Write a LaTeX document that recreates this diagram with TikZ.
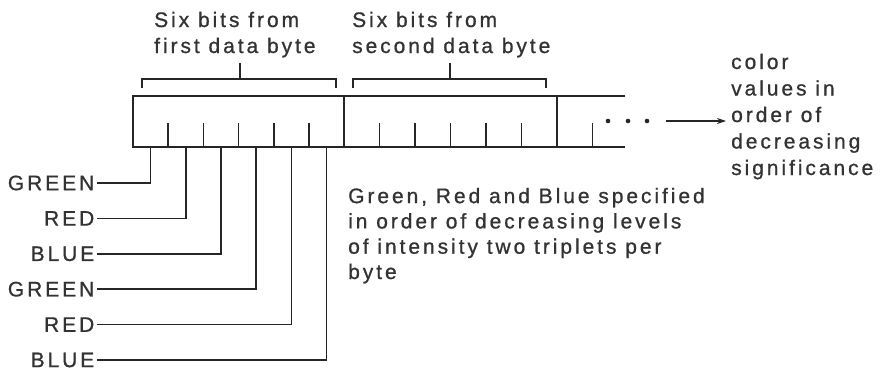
\documentclass[tikz,border=0pt]{standalone}
\usepackage{fontspec}
\setmainfont[LetterSpace=14,FakeBold=0.8]{Liberation Sans}
\usetikzlibrary{arrows.meta}
\definecolor{ink}{HTML}{333333}
\definecolor{linec}{HTML}{262626}
\begin{document}
\begin{tikzpicture}[x=1pt,y=-1pt,
  txt/.style={font=\fontsize{21}{26}\selectfont, text=ink, inner sep=0pt, align=left},
  txtb/.style={font=\fontsize{21}{25.3}\selectfont, text=ink, inner sep=0pt, align=left},
  txtr/.style={font=\fontsize{21}{26.5}\selectfont, text=ink, inner sep=0pt, align=left},
  lab/.style={font=\fontsize{21}{26}\selectfont, text=ink, inner sep=0pt, anchor=east},
  ln/.style={draw=linec, line width=1.6pt},
  dotmark/.style={fill=linec, circle, inner sep=0pt, minimum size=4.6pt}]
\useasboundingbox (0,0) rectangle (882,372);
\fill[white] (0,0) rectangle (882,372);

% the register box (open at the right)
\draw[ln] (625,96) -- (133,96) -- (133,147) -- (625,147);
\draw[ln] (344,96) -- (344,147);
\draw[ln] (557,96) -- (557,147);
\foreach \x in {168.2,203.3,238.5,273.7,308.8,379.5,415,450.5,486,521.5,592.5}
  \draw[ln] (\x,123) -- (\x,147);

% cell midpoints of the first byte
\coordinate (c1) at (150.6,147);
\coordinate (c2) at (185.8,147);
\coordinate (c3) at (221,147);
\coordinate (c4) at (256.2,147);
\coordinate (c5) at (291.4,147);
\coordinate (c6) at (326.6,147);

% brackets
\draw[ln] (142,88) -- (142,79) -- (336,79) -- (336,88);
\draw[ln] (240,79) -- (240,63);
\draw[ln] (353,88) -- (353,79) -- (546,79) -- (546,88);
\draw[ln] (450,79) -- (450,63);

% top texts (base anchor = baseline of last line)
\node[txt, anchor=base west] (t1) at (154,53) {Six bits from\\first data byte};
\node[txt, anchor=base west] (t2) at (352,53) {Six bits from\\second data byte};

% labels and connectors
\node[lab] (g1) at (94.5,183) {GREEN};
\node[lab] (r1) at (94.5,218.4) {RED};
\node[lab] (b1) at (94.5,253.8) {BLUE};
\node[lab] (g2) at (94.5,289.2) {GREEN};
\node[lab] (r2) at (94.5,324.6) {RED};
\node[lab] (b2) at (94.5,360) {BLUE};
\draw[ln] ([xshift=2.5pt]g1.east) -| (c1);
\draw[ln] ([xshift=2.5pt]r1.east) -| (c2);
\draw[ln] ([xshift=2.5pt]b1.east) -| (c3);
\draw[ln] ([xshift=2.5pt]g2.east) -| (c4);
\draw[ln] ([xshift=2.5pt]r2.east) -| (c5);
\draw[ln] ([xshift=2.5pt]b2.east) -| (c6);

% explanation text
\node[txtb, anchor=base west] (expl) at (348,279)
  {Green, Red and Blue specified\\in order of decreasing levels\\of intensity two triplets per\\byte};

% continuation dots and arrow
\node[dotmark] (d1) at (608,121) {};
\node[dotmark] (d2) at (628,121) {};
\node[dotmark] (d3) at (647,121) {};
\coordinate (as) at (666,121);
\coordinate (ae) at (726,121);
\draw[ln, line width=1.3pt, -{Stealth[length=9pt,width=6pt]}] (as) -- (ae);

\node[txtr, anchor=base west] (rt) at (731,175)
  {color\\values in\\order of\\decreasing\\significance};
\end{tikzpicture}
\end{document}
